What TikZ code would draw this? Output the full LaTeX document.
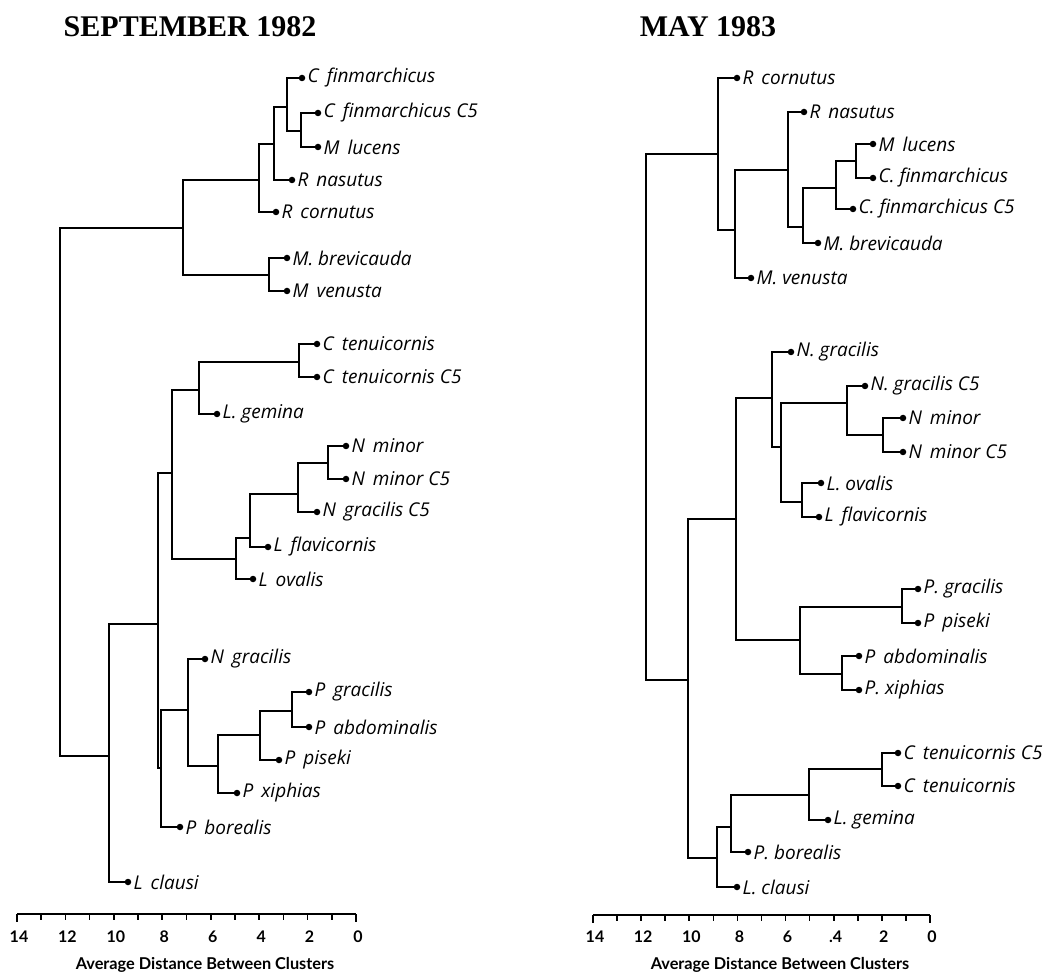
\documentclass[tikz,border=0pt]{standalone}
\usepackage{fontspec}
\setmainfont{Liberation Serif}
\newfontfamily\labfont{Open Sans}
\newfontfamily\axfont{Lato}
\newcommand\gp{\hspace{0.42em}}
\newcommand\leafnode[3]{\node[leaf] (#1) at (#2) {}; \node[lab] (#1t) at ([xshift=2pt]#1.east) {#3};}
\begin{document}
\begin{tikzpicture}[x=1pt,y=-1pt,
  br/.style={line width=2.3pt, line join=miter},
  leaf/.style={circle,fill,inner sep=0pt,minimum size=6.5pt},
  lab/.style={font=\labfont\itshape\fontsize{19}{22}\selectfont, inner sep=0pt, anchor=west},
  ttl/.style={font=\bfseries\fontsize{30}{34}\selectfont, inner sep=0pt},
  ticklab/.style={font=\axfont\bfseries\fontsize{16}{18}\selectfont, inner sep=0pt},
  axtitle/.style={font=\axfont\bfseries\fontsize{16.3}{18}\selectfont, inner sep=0pt},
  axl/.style={line width=2.3pt},
  tk/.style={line width=1.6pt}
]
\useasboundingbox (0,0) rectangle (1058,973);

% ---------- titles ----------
\node[ttl] (t1) at (190,27) {SEPTEMBER 1982};
\node[ttl] (t2) at (708,27) {MAY 1983};

% ================= LEFT TREE =================
\leafnode{L1}{302,78}{C\gp finmarchicus}
\leafnode{L2}{318,113}{C\gp finmarchicus C5}
\leafnode{L3}{318,147}{M\gp lucens}
\leafnode{L4}{292,180}{R\gp nasutus}
\leafnode{L5}{276,212}{R\gp cornutus}
\leafnode{L6}{287,258}{M. brevicauda}
\leafnode{L7}{287,291}{M\gp venusta}
\leafnode{L8}{317,344}{C\gp tenuicornis}
\leafnode{L9}{317,377}{C\gp tenuicornis C5}
\leafnode{L10}{217,414}{L. gemina}
\leafnode{L11}{346,446}{N\gp minor}
\leafnode{L12}{346,479}{N\gp minor C5}
\leafnode{L13}{317,512}{N\gp gracilis C5}
\leafnode{L14}{268,547}{L\gp flavicornis}
\leafnode{L15}{253,579}{L\gp ovalis}
\leafnode{L16}{205,659}{N\gp gracilis}
\leafnode{L17}{309,692}{P\gp gracilis}
\leafnode{L18}{309,727}{P\gp abdominalis}
\leafnode{L19}{279,760}{P\gp piseki}
\leafnode{L20}{237,793}{P\gp xiphias}
\leafnode{L21}{180,827}{P\gp borealis}
\leafnode{L22}{128,882}{L\gp clausi}

\coordinate (a1) at (301,131);
\coordinate (a2) at (287,107);
\coordinate (a3) at (274,144);
\coordinate (a4) at (259,180);
\coordinate (a5) at (269,275);
\coordinate (a6) at (183,228);
\coordinate (b1) at (299,362);
\coordinate (b2) at (199,390);
\coordinate (b3) at (328,463);
\coordinate (b4) at (298,494);
\coordinate (b5) at (250,538);
\coordinate (b6) at (236,559);
\coordinate (b7) at (172,473);
\coordinate (c1) at (292,711);
\coordinate (c2) at (260,735);
\coordinate (c3) at (218,766);
\coordinate (c4) at (188,710);
\coordinate (c5) at (161,768);
\coordinate (q)  at (158,624);
\coordinate (r)  at (109,756);
\coordinate (root) at (60,492);

\draw[br] (L2) -| (a1) |- (L3);
\draw[br] (L1) -| (a2) |- (a1);
\draw[br] (a2) -| (a3) |- (L4);
\draw[br] (a3) -| (a4) |- (L5);
\draw[br] (L6) -| (a5) |- (L7);
\draw[br] (a4) -| (a6) |- (a5);
\draw[br] (L8) -| (b1) |- (L9);
\draw[br] (b1) -| (b2) |- (L10);
\draw[br] (L11) -| (b3) |- (L12);
\draw[br] (b3) -| (b4) |- (L13);
\draw[br] (b4) -| (b5) |- (L14);
\draw[br] (b5) -| (b6) |- (L15);
\draw[br] (b2) -| (b7) |- (b6);
\draw[br] (L17) -| (c1) |- (L18);
\draw[br] (c1) -| (c2) |- (L19);
\draw[br] (c2) -| (c3) |- (L20);
\draw[br] (L16) -| (c4) |- (c3);
\draw[br] (c4) -| (c5) |- (L21);
\draw[br] (b7) -| (q) |- (c5);
\draw[br] (q) -| (r) |- (L22);
\draw[br] (a6) -| (root) |- (r);

% ================= RIGHT TREE =================
\leafnode{R1}{737,78}{R\gp cornutus}
\leafnode{R2}{804,112}{R\gp nasutus}
\leafnode{R3}{873,144}{M\gp lucens}
\leafnode{R4}{873,178}{C. finmarchicus}
\leafnode{R5}{853,209}{C. finmarchicus C5}
\leafnode{R6}{818,243}{M. brevicauda}
\leafnode{R7}{751,278}{M. venusta}
\leafnode{R8}{791,352}{N. gracilis}
\leafnode{R9}{865,386}{N. gracilis C5}
\leafnode{R10}{903,418}{N\gp minor}
\leafnode{R11}{903,452}{N\gp minor C5}
\leafnode{R12}{821,483}{L. ovalis}
\leafnode{R13}{819,517}{L\gp flavicornis}
\leafnode{R14}{918,589}{P. gracilis}
\leafnode{R15}{918,623}{P\gp piseki}
\leafnode{R16}{859,656}{P\gp abdominalis}
\leafnode{R17}{859,690}{P. xiphias}
\leafnode{R18}{898,753}{C\gp tenuicornis C5}
\leafnode{R19}{898,786}{C\gp tenuicornis}
\leafnode{R20}{828,820}{L. gemina}
\leafnode{R21}{748,852}{P. borealis}
\leafnode{R22}{737,887}{L. clausi}

\coordinate (d1) at (856,161);
\coordinate (d2) at (836,188);
\coordinate (d3) at (803,227);
\coordinate (d4) at (788,170);
\coordinate (d5) at (735,230);
\coordinate (d6) at (718,154);
\coordinate (e1) at (883,435);
\coordinate (e2) at (847,403);
\coordinate (e3) at (802,502);
\coordinate (e4) at (781,447);
\coordinate (e5) at (772,398);
\coordinate (f1) at (902,607);
\coordinate (f2) at (842,674);
\coordinate (f3) at (800,640);
\coordinate (f4) at (736,519);
\coordinate (g1) at (882,769);
\coordinate (g2) at (809,795);
\coordinate (g3) at (731,827);
\coordinate (g4) at (717,858);
\coordinate (h1) at (688,680);
\coordinate (root2) at (646,417);

\draw[br] (R3) -| (d1) |- (R4);
\draw[br] (d1) -| (d2) |- (R5);
\draw[br] (d2) -| (d3) |- (R6);
\draw[br] (R2) -| (d4) |- (d3);
\draw[br] (d4) -| (d5) |- (R7);
\draw[br] (R1) -| (d6) |- (d5);
\draw[br] (R10) -| (e1) |- (R11);
\draw[br] (R9) -| (e2) |- (e1);
\draw[br] (R12) -| (e3) |- (R13);
\draw[br] (e2) -| (e4) |- (e3);
\draw[br] (R8) -| (e5) |- (e4);
\draw[br] (R14) -| (f1) |- (R15);
\draw[br] (R16) -| (f2) |- (R17);
\draw[br] (f1) -| (f3) |- (f2);
\draw[br] (e5) -| (f4) |- (f3);
\draw[br] (R18) -| (g1) |- (R19);
\draw[br] (g1) -| (g2) |- (R20);
\draw[br] (g2) -| (g3) |- (R21);
\draw[br] (g3) -| (g4) |- (R22);
\draw[br] (f4) -| (h1) |- (g4);
\draw[br] (d6) -| (root2) |- (h1);

% ================= AXES =================
\coordinate (axLa) at (17,914);
\coordinate (axLb) at (356,914);
\draw[axl] (axLa) -- (axLb);
\foreach \v in {1,...,13} \draw[tk] (356-\v*24.214,914) -- ++(0,6);
\draw[tk] (axLa) -- ++(0,8);
\draw[tk] (axLb) -- ++(0,8);
\foreach \v/\t in {14/14,12/12,10/10,8/8,6/6,4/4,2/2,0/0}
  \node[ticklab] (tl\v) at (358-\v*24.214,937) {\t};
\node[axtitle] (axt1) at (205,965) {Average Distance Between Clusters};

\coordinate (axRa) at (593,915);
\coordinate (axRb) at (930,915);
\draw[axl] (axRa) -- (axRb);
\foreach \v in {1,...,13} \draw[tk] (930-\v*24.071,915) -- ++(0,6);
\draw[tk] (axRa) -- ++(0,8);
\draw[tk] (axRb) -- ++(0,8);
\foreach \v/\t in {14/14,12/12,10/10,8/8,6/6,4/.4,2/2,0/0}
  \node[ticklab] (tr\v) at (932-\v*24.071,937) {\t};
\node[axtitle] (axt2) at (780,965) {Average Distance Between Clusters};
\end{tikzpicture}
\end{document}
